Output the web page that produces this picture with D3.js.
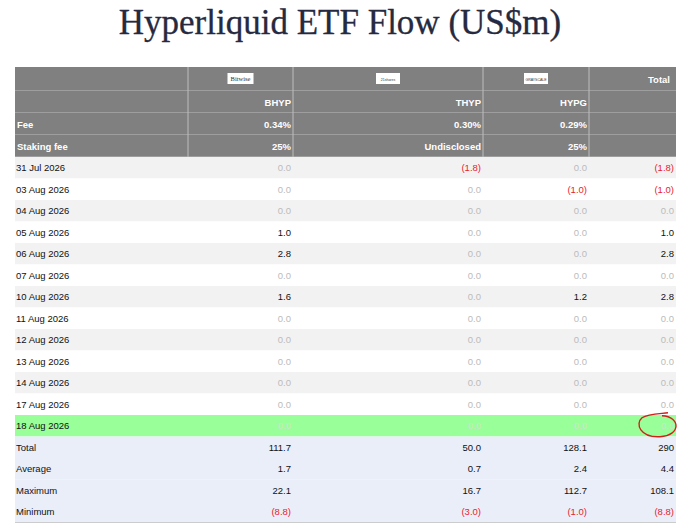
<!DOCTYPE html>
<html><head><meta charset="utf-8">
<script src="https://cdn.jsdelivr.net/npm/d3@7"></script>
<style>body{margin:0;background:#fff}</style></head>
<body><svg id="c" width="680" height="530"></svg>
<script>
const issuers=["Bitwise","21shares","GRAYSCALE"];
const tickers=["BHYP","THYP","HYPG"];
const fees=["0.34%","0.30%","0.29%"];
const stakingFees=["25%","Undisclosed","25%"];
const dates=["31 Jul 2026","03 Aug 2026","04 Aug 2026","05 Aug 2026","06 Aug 2026","07 Aug 2026","10 Aug 2026","11 Aug 2026","12 Aug 2026","13 Aug 2026","14 Aug 2026","17 Aug 2026","18 Aug 2026"];
const bhyp=[0,0,0,1.0,2.8,0,1.6,0,0,0,0,0,0];
const thyp=[-1.8,0,0,0,0,0,0,0,0,0,0,0,0];
const hypg=[0,-1.0,0,0,0,0,1.2,0,0,0,0,0,0];
const total=[-1.8,-1.0,0,1.0,2.8,0,2.8,0,0,0,0,0,0];
const summaryLabels=["Total","Average","Maximum","Minimum"];
const summaryVals=[[111.7,50.0,128.1,290],[1.7,0.7,2.4,4.4],[22.1,16.7,112.7,108.1],[-8.8,-3.0,-1.0,-8.8]];

const svg=d3.select("#c");
const font="Liberation Sans Narrow, Liberation Sans, Arial, sans-serif";
svg.append("text").attr("x",340).attr("y",34).attr("text-anchor","middle")
 .attr("font-family","Liberation Serif, Times New Roman, serif").attr("font-size",35).attr("fill","#262a40")
 .attr("stroke","#262a40").attr("stroke-width",0.3)
 .text("Hyperliquid ETF Flow (US$m)");

const edges=[15,188,293,483,589,676];
const fmt=v=>v===290?"290":v<0?"("+Math.abs(v).toFixed(1)+")":v.toFixed(1);
const colFill=v=>v<0?"#e8222e":v===0?"#bbbbbb":"#111";
const hdrH=[24,22,22,22];
let y=67;
const hdrRows=[["",...issuers.map(()=>""),"Total"],["",...tickers,""],["Fee",...fees,""],["Staking fee",...stakingFees,""]];
hdrRows.forEach((r,ri)=>{
  const h=hdrH[ri];
  svg.append("rect").attr("x",15).attr("y",y).attr("width",661).attr("height",h).attr("fill","#808080");
  r.forEach((t,ci)=>{
    if(ci>0) svg.append("line").attr("x1",edges[ci]).attr("x2",edges[ci]).attr("y1",y).attr("y2",y+h).attr("stroke","#bdbdbd");
    if(ri===0&&ci>=1&&ci<=3){
      const cx=(edges[ci]+edges[ci+1])/2;
      const w=ci===1?26:24;
      svg.append("rect").attr("x",cx-w/2).attr("y",y+6).attr("width",w).attr("height",11).attr("fill","#fff");
      svg.append("text").attr("x",cx).attr("y",y+14).attr("text-anchor","middle").attr("font-size",ci===1?6.5:3.5)
       .attr("font-family",ci===1?"Liberation Serif,serif":font).attr("fill","#333").text(issuers[ci-1]);
    }
    if(t){
      const left=ci===0;
      svg.append("text").attr("x",left?edges[0]+2:edges[ci+1]-(ci===4?6:2)).attr("y",y+h/2+3.5)
       .attr("text-anchor",left?"start":"end").attr("font-family",font).attr("font-size",9.5)
       .attr("font-weight","bold").attr("fill","#fff").text(t);
    }
  });
  svg.append("line").attr("x1",15).attr("x2",676).attr("y1",y+h).attr("y2",y+h).attr("stroke","#bdbdbd");
  y+=h;
});
const rowH=21.5;
const yScale=d3.scaleBand().domain(d3.range(dates.length+4)).range([y,y+rowH*(dates.length+4)]);
const rows=dates.map((d,i)=>({label:d,vals:[bhyp[i],thyp[i],hypg[i],total[i]],i,kind:"d"}))
 .concat(summaryLabels.map((l,k)=>({label:l,vals:summaryVals[k],i:dates.length+k,kind:"s"})));
rows.forEach(r=>{
  const ry=yScale(r.i);
  let bg=r.kind==="s"?"#e9eef9":(r.i%2===0?"#f2f2f2":"#ffffff");
  if(r.i===dates.length-1) bg="#99ff99";
  svg.append("rect").attr("x",15).attr("y",ry).attr("width",661).attr("height",rowH).attr("fill",bg);
  svg.append("text").attr("x",16).attr("y",ry+rowH/2+3.5).attr("font-family",font).attr("font-size",9.5).attr("fill","#111").text(r.label);
  r.vals.forEach((v,k)=>{
    let fill=colFill(v); if(r.i===dates.length-1) fill="#c9e8c9";
    svg.append("text").attr("x",edges[k+2]-2).attr("y",ry+rowH/2+3.5).attr("text-anchor","end")
     .attr("font-family",font).attr("font-size",9.5).attr("fill",fill).text(fmt(v));
  });
});
svg.append("line").attr("x1",15).attr("x2",676).attr("y1",yScale.range()[1]).attr("y2",yScale.range()[1]).attr("stroke","#ccc");
const ay=yScale(dates.length-1)+rowH/2;
svg.append("path").attr("d",`M662,${ay-10} C681,${ay-9} 681,${ay+10} 660,${ay+11} C640,${ay+12} 635,${ay-2} 642,${ay-8} C648,${ay-12} 660,${ay-12} 668,${ay-13}`)
 .attr("fill","none").attr("stroke","#d0201a").attr("stroke-width",1.4);
</script></body></html>
